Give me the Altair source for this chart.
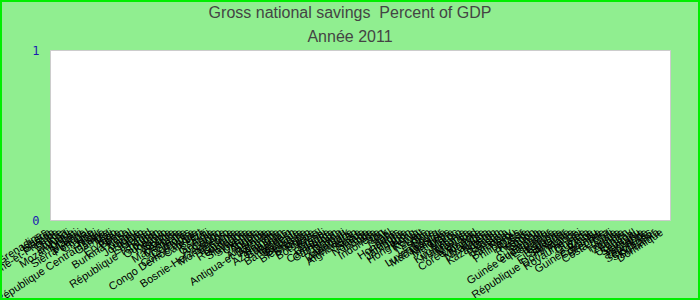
import altair as alt
import pandas as pd

# Country categories, in the order of the x axis (French names)
countries = [
    "Saint-Vincent-et-les-Grenadines", "Libéria", "Samoa", "Sao Tomé-et-Principe", "Grèce",
    "Tonga", "Burundi", "Mozambique", "Kiribati", "Malawi",
    "Sierra Leone", "Portugal", "Chypre", "Haïti", "Niger",
    "République Centrafricaine", "Gambie", "Mali", "Togo", "Érythrée",
    "Bénin", "Burkina Faso", "Népal", "Tuvalu", "Jordanie",
    "Liban", "Éthiopie", "Tchad", "République Tchèque", "Soudan",
    "Ouganda", "Kosovo", "Serbie", "Albanie", "Macédoine",
    "Moldavie", "Croatie", "Comores", "Côte d'Ivoire", "Congo Démocratique",
    "Cap-Vert", "Belize", "Fidji", "Géorgie", "Arménie",
    "Congo", "Bosnie-Herzégovine", "Monténégro", "Lettonie", "Lituanie",
    "Roumanie", "Pologne", "Slovaquie", "Slovénie", "Ukraine",
    "Angola", "Algérie", "Argentine", "Antigua-et-Barbuda", "Australie",
    "Autriche", "Azerbaïdjan", "Bahamas", "Bahreïn", "Bangladesh",
    "Barbade", "Belgique", "Biélorussie", "Bhoutan", "Bolivie",
    "Botswana", "Brésil", "Brunei", "Bulgarie", "Cambodge",
    "Cameroun", "Canada", "Djibouti", "Danemark", "Allemagne",
    "Afghanistan", "Suisse", "Suède", "Norvège", "Irlande",
    "Inde", "Indonésie", "Iran", "Irak", "Israël",
    "Italie", "Honduras", "Hongrie", "Jamaïque", "Japon",
    "Hong Kong", "Kenya", "Koweït", "Laos", "Lesotho",
    "Libye", "Luxembourg", "Madagascar", "Malaisie", "Maldives",
    "Malte", "Maroc", "Kirghizstan", "Mauritanie", "Maurice",
    "Mexique", "Corée du Sud", "Mongolie", "Namibie", "Nicaragua",
    "Nigeria", "Kazakhstan", "Oman", "Pakistan", "Panama",
    "Paraguay", "Pérou", "Philippines", "Qatar", "Russie",
    "Rwanda", "Gabon", "Ghana", "Guatemala", "Guinée équatoriale",
    "Équateur", "Égypte", "Estonie", "Espagne", "El Salvador",
    "Finlande", "République Dominicaine", "France", "Royaume-Uni", "Guinée",
    "Guyana", "Chine", "Guinée-Bissau", "Colombie", "Grenade",
    "Costa Rica", "Chili", "Tunisie", "Turquie", "Zambie",
    "Yémen", "Uruguay", "Sénégal", "Vanuatu", "Tanzanie",
    "Thaïlande", "Seychelles", "Singapour", "Sri Lanka", "Dominique",
]

# No bar is drawn in the reference for 2011: values are missing
savings = [None] * len(countries)

y_ticks = [0, 1]
y_domain = [0, 1]

# double space kept visible with a no-break space
title_text = "Gross national savings\u00a0 Percent of GDP"
subtitle_text = "Année 2011"

df = pd.DataFrame({"pays": countries, "epargne": savings})

bars = alt.Chart(df).mark_bar(color="#4682b4").encode(
    x=alt.X(
        "pays:N",
        sort=None,
        scale=alt.Scale(domain=countries),
        axis=alt.Axis(
            title=None,
            labelAngle=-33,
            labelAlign="right",
            labelBaseline="top",
            labelOverlap=False,
            labelLimit=400,
            labelFontSize=11,
            labelFont="Liberation Sans",
            labelColor="#000000",
            ticks=False,
            domain=False,
            labelPadding=6,
            labelOffset=-9,
        ),
    ),
    y=alt.Y(
        "epargne:Q",
        scale=alt.Scale(domain=y_domain, nice=False),
        axis=alt.Axis(
            title=None,
            values=y_ticks,
            format="d",
            grid=False,
            ticks=False,
            domain=False,
            labelColor="#1A1AB0",
            labelFont="DejaVu Sans Mono",
            labelFontSize=12,
            labelPadding=11,
        ),
    ),
)

border = alt.Chart(alt.Data(values=[{"b": 1}])).mark_rect(
    fillOpacity=0, stroke="#00EE00", strokeWidth=2
).encode(
    x=alt.value(-49), x2=alt.value(649), y=alt.value(-49), y2=alt.value(249)
)

chart = alt.layer(bars, border).properties(
    width=620,
    height=170,
    title=alt.TitleParams(
        text=title_text,
        subtitle=subtitle_text,
        fontSize=16,
        subtitleFontSize=16,
        font="Liberation Sans",
        subtitleFont="Liberation Sans",
        color="#444444",
        subtitleColor="#444444",
        fontWeight="normal",
        anchor="middle",
        dx=-10,
        dy=45,
        offset=0,
        subtitlePadding=8,
    ),
    autosize=alt.AutoSizeParams(type="none"),
    padding={"left": 50, "top": 50, "right": 30, "bottom": 80},
    background="#90EE90",
).configure_view(fill="white", stroke="#cccccc")

chart.save("out.html", embed_options={"renderer": "svg", "actions": False})
